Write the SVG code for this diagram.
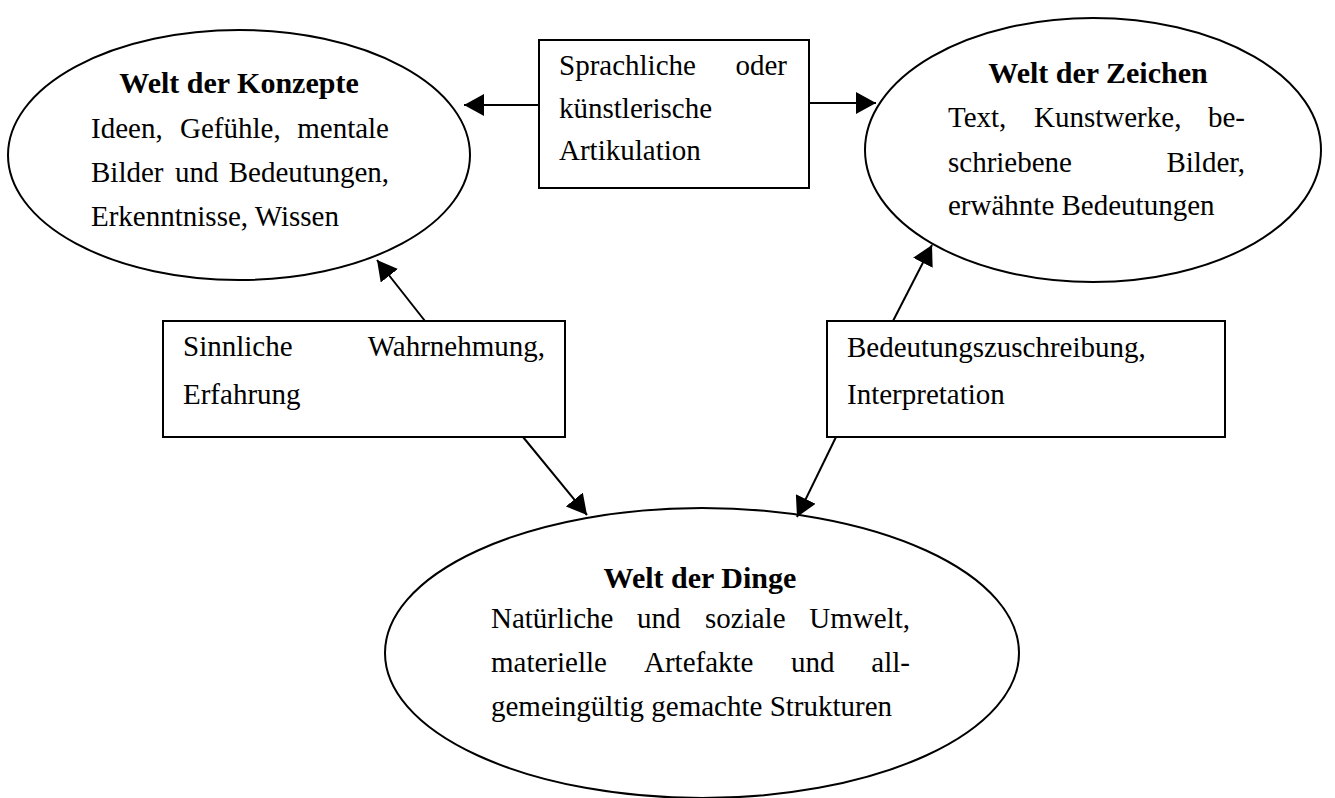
<svg xmlns="http://www.w3.org/2000/svg" width="1335" height="798" viewBox="0 0 1335 798">
<style>
.shape{fill:#fff;stroke:#000;stroke-width:2}
.con{fill:none;stroke:#000;stroke-width:2}
text{font-family:"Liberation Serif","Times New Roman",serif;font-size:29px;fill:#000}
.t{font-weight:bold;font-size:30px;text-anchor:middle}
.e{text-anchor:end}
</style>
<defs>
<marker id="ah" markerUnits="userSpaceOnUse" markerWidth="20" markerHeight="22" refX="20" refY="11" orient="auto">
<path d="M0,0 L20,11 L0,22 z" fill="#000"/>
</marker>
</defs>
<rect width="1335" height="798" fill="#fff"/>
<g id="konzepte">
<ellipse class="shape" cx="239" cy="155" rx="231" ry="125"/>
<text class="t" x="239" y="93">Welt der Konzepte</text>
<text y="138"><tspan x="91">Ideen,</tspan><tspan x="180">Gefühle,</tspan><tspan class="e" x="389">mentale</tspan></text>
<text y="182"><tspan x="91">Bilder</tspan><tspan x="175">und</tspan><tspan class="e" x="389">Bedeutungen,</tspan></text>
<text x="91" y="226">Erkenntnisse, Wissen</text>
</g>
<g id="zeichen">
<ellipse class="shape" cx="1093" cy="150" rx="228" ry="132"/>
<text class="t" x="1098" y="83">Welt der Zeichen</text>
<text y="127"><tspan x="948">Text,</tspan><tspan x="1034">Kunstwerke,</tspan><tspan class="e" x="1245">be-</tspan></text>
<text y="172"><tspan x="948">schriebene</tspan><tspan class="e" x="1245">Bilder,</tspan></text>
<text x="948" y="215">erwähnte Bedeutungen</text>
</g>
<g id="dinge">
<ellipse class="shape" cx="702" cy="653" rx="317" ry="145"/>
<text class="t" x="700" y="588">Welt der Dinge</text>
<text y="628"><tspan x="491">Natürliche</tspan><tspan x="637">und</tspan><tspan x="705">soziale</tspan><tspan class="e" x="910">Umwelt,</tspan></text>
<text y="672"><tspan x="491">materielle</tspan><tspan x="644">Artefakte</tspan><tspan x="791">und</tspan><tspan class="e" x="910">all-</tspan></text>
<text x="491" y="716">gemeingültig gemachte Strukturen</text>
</g>
<g id="artikulation">
<rect class="shape" x="539" y="40" width="270" height="148"/>
<text y="75"><tspan x="559">Sprachliche</tspan><tspan class="e" x="787">oder</tspan></text>
<text x="559" y="118">künstlerische</text>
<text x="559" y="160">Artikulation</text>
</g>
<g id="wahrnehmung">
<rect class="shape" x="163" y="321" width="402" height="116"/>
<text y="356"><tspan x="183">Sinnliche</tspan><tspan class="e" x="545">Wahrnehmung,</tspan></text>
<text x="183" y="404">Erfahrung</text>
</g>
<g id="interpretation">
<rect class="shape" x="827" y="321" width="398" height="116"/>
<text x="847" y="357">Bedeutungszuschreibung,</text>
<text x="847" y="404">Interpretation</text>
</g>
<g id="connectors">
<line class="con" x1="539" y1="105" x2="464" y2="105" marker-end="url(#ah)"/>
<line class="con" x1="809" y1="103" x2="876" y2="103" marker-end="url(#ah)"/>
<line class="con" x1="425" y1="321" x2="377" y2="260" marker-end="url(#ah)"/>
<line class="con" x1="523" y1="437" x2="587" y2="515" marker-end="url(#ah)"/>
<line class="con" x1="893" y1="321" x2="932" y2="245" marker-end="url(#ah)"/>
<line class="con" x1="836" y1="437" x2="797" y2="517" marker-end="url(#ah)"/>
</g>
</svg>
